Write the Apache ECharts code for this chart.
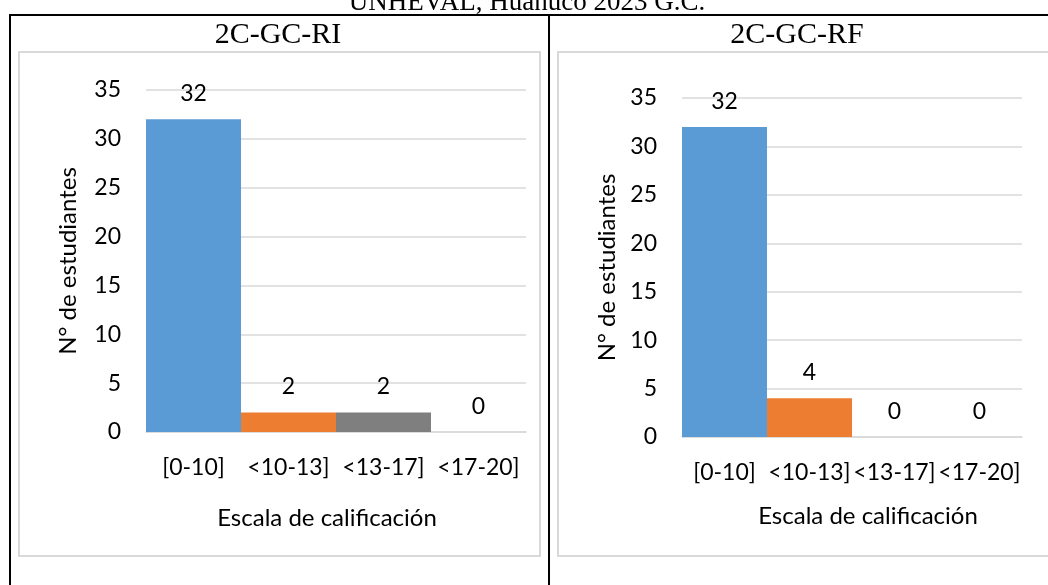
<!DOCTYPE html>
<html>
<head>
<meta charset="utf-8">
<script src="https://cdn.jsdelivr.net/npm/echarts@6/dist/echarts.min.js"></script>
<style>
html,body{margin:0;padding:0;background:#fff;}
#c{width:1048px;height:585px;}
</style>
</head>
<body>
<div id="c"></div>
<script>
// ---- data ----
const categories = ['[0-10]', '<10-13]', '<13-17]', '<17-20]'];
const valuesRI = [32, 2, 2, 0];
const valuesRF = [32, 4, 0, 0];
const yTicks = [0, 5, 10, 15, 20, 25, 30, 35];
const pageTitle = 'UNHEVAL, Huánuco 2023 G.C.';
const panelTitles = ['2C-GC-RI', '2C-GC-RF'];
const yName = 'N° de estudiantes';
const xName = 'Escala de calificación';

// ---- styles ----
const barColors = ['#5B9BD5', '#ED7D31', '#7F7F7F', '#FFC000'];
const FONT = 'Lato';
const SERIF = 'Liberation Serif';
const gridColor = '#D9D9D9';

const chart = echarts.init(document.getElementById('c'), null, {renderer: 'canvas'});

function yAxisCfg(gridIndex, gap) {
  return {
    gridIndex: gridIndex,
    type: 'value',
    min: yTicks[0],
    max: yTicks[yTicks.length - 1],
    interval: yTicks[1] - yTicks[0],
    name: yName,
    nameLocation: 'middle',
    nameGap: gap,
    nameRotate: 90,
    nameTextStyle: {fontFamily: FONT, fontSize: 24, color: '#000'},
    axisLine: {show: false},
    axisTick: {show: false},
    axisLabel: {fontFamily: FONT, fontSize: 23, color: '#000', margin: 25},
    splitLine: {lineStyle: {color: gridColor, width: 1.5}}
  };
}
function xAxisCfg(gridIndex) {
  return {
    gridIndex: gridIndex,
    type: 'category',
    data: categories,
    axisLine: {lineStyle: {color: gridColor, width: 1.5}},
    axisTick: {show: false},
    axisLabel: {fontFamily: FONT, fontSize: 23, color: '#000', margin: 24, interval: 0}
  };
}
function seriesCfg(idx, values) {
  return {
    type: 'bar',
    xAxisIndex: idx,
    yAxisIndex: idx,
    barCategoryGap: '0%',
    data: values.map((v, i) => ({value: v, itemStyle: {color: barColors[i]}})),
    label: {show: true, position: 'top', distance: 14, fontFamily: FONT, fontSize: 23, color: '#000'},
    animation: false
  };
}

chart.setOption({
  backgroundColor: '#fff',
  animation: false,
  grid: [
    {left: 146, right: 1048 - 526, top: 90, bottom: 585 - 432},
    {left: 682, right: 1048 - 1022, top: 98, bottom: 585 - 437}
  ],
  xAxis: [xAxisCfg(0), xAxisCfg(1)],
  yAxis: [yAxisCfg(0, 66), yAxisCfg(1, 63)],
  series: [seriesCfg(0, valuesRI), seriesCfg(1, valuesRF)],
  graphic: [
    // table lines
    {type: 'line', shape: {x1: 9, y1: 15, x2: 1048, y2: 15}, style: {stroke: '#000', lineWidth: 2}, silent: true},
    {type: 'line', shape: {x1: 10, y1: 14, x2: 10, y2: 585}, style: {stroke: '#000', lineWidth: 2}, silent: true},
    {type: 'line', shape: {x1: 549, y1: 14, x2: 549, y2: 585}, style: {stroke: '#000', lineWidth: 2}, silent: true},
    // chart frames
    {type: 'rect', shape: {x: 19, y: 52, width: 521, height: 504}, style: {fill: 'none', stroke: gridColor, lineWidth: 2}, silent: true},
    {type: 'rect', shape: {x: 558, y: 52, width: 520, height: 504}, style: {fill: 'none', stroke: gridColor, lineWidth: 2}, silent: true},
    // titles
    {type: 'text', x: 527, y: -11, style: {text: pageTitle, fontFamily: SERIF, fontSize: 27, fill: '#000', align: 'center', verticalAlign: 'top'}, silent: true},
    {type: 'text', x: 278, y: 35, style: {text: panelTitles[0], fontFamily: SERIF, fontSize: 30, fill: '#000', align: 'center', verticalAlign: 'middle'}, silent: true},
    {type: 'text', x: 797, y: 35, style: {text: panelTitles[1], fontFamily: SERIF, fontSize: 30, fill: '#000', align: 'center', verticalAlign: 'middle'}, silent: true},
    // x axis names
    {type: 'text', x: 327, y: 518, style: {text: xName, fontFamily: FONT, fontSize: 24, fill: '#000', align: 'center', verticalAlign: 'middle'}, silent: true},
    {type: 'text', x: 868, y: 516, style: {text: xName, fontFamily: FONT, fontSize: 24, fill: '#000', align: 'center', verticalAlign: 'middle'}, silent: true}
  ]
});
</script>
</body>
</html>
